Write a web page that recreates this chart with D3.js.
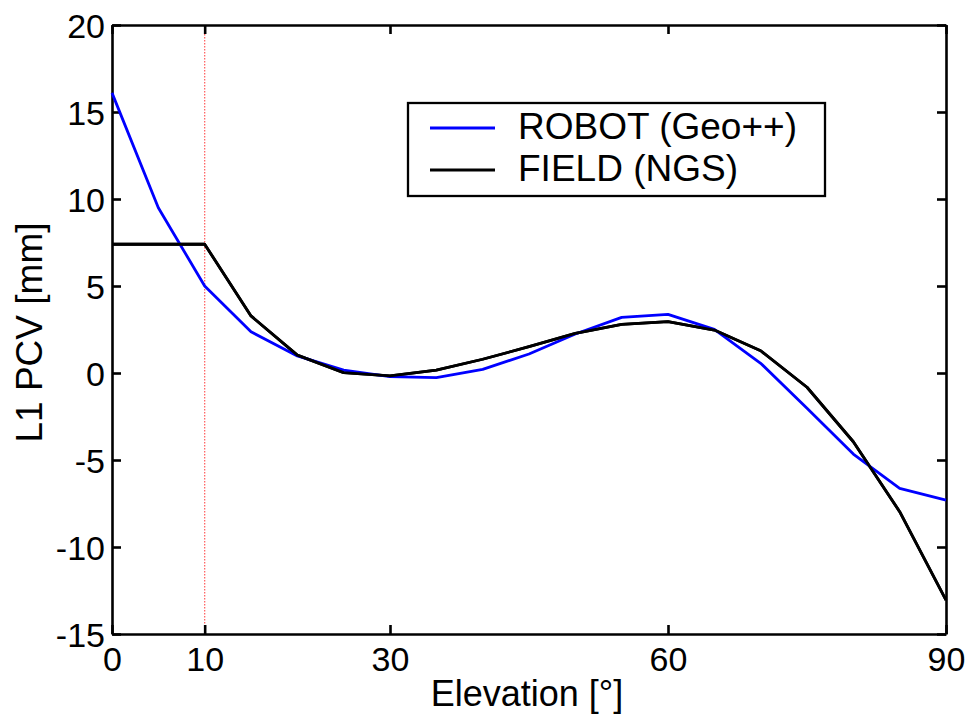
<!DOCTYPE html>
<html>
<head>
<meta charset="utf-8">
<script src="https://cdn.jsdelivr.net/npm/d3@7"></script>
<style>
  body { margin: 0; background: #fff; }
  svg text { font-family: "Liberation Sans", Arial, Helvetica, sans-serif; fill: #000; }
</style>
</head>
<body>
<svg id="chart" width="969" height="716"></svg>
<script>
const elevation = [0, 5, 10, 15, 20, 25, 30, 35, 40, 45, 50, 55, 60, 65, 70, 75, 80, 85, 90];
const robotValues = [16.1, 9.5, 5.0, 2.37, 0.98, 0.17, -0.21, -0.27, 0.21, 1.09, 2.24, 3.2, 3.37, 2.51, 0.56, -2.03, -4.66, -6.63, -7.3];
const fieldElevation = [0, 10, 15, 20, 25, 30, 35, 40, 45, 50, 55, 60, 65, 70, 75, 80, 85, 90];
const fieldValues = [7.4, 7.4, 3.28, 1.03, 0.02, -0.17, 0.17, 0.79, 1.51, 2.28, 2.8, 2.95, 2.47, 1.28, -0.82, -3.95, -7.97, -13.05];
const xTicks = [0, 10, 30, 60, 90];
const yTicks = [-15, -10, -5, 0, 5, 10, 15, 20];
const seriesNames = ["ROBOT (Geo++)", "FIELD (NGS)"];
const seriesColors = ["#0000ff", "#000000"];
const cutoffElevation = 10;

(function () {
const svg = d3.select("#chart");
const mL = 112, mR = 946, mT = 25, mB = 634;
const x = d3.scaleLinear().domain([0, 90]).range([mL, mR]);
const y = d3.scaleLinear().domain([-15, 20]).range([mB, mT]);

// cutoff dotted line
svg.append("line")
  .attr("x1", x(cutoffElevation)).attr("x2", x(cutoffElevation))
  .attr("y1", y(20)).attr("y2", y(-15))
  .attr("stroke", "#ff6666").attr("stroke-width", 1.3)
  .attr("stroke-dasharray", "1.5,1.5");

// axes (ticks inward)
const tickLen = 9;
const axB = svg.append("g").attr("transform", `translate(0,${mB})`)
  .call(d3.axisBottom(x).tickValues(xTicks).tickSizeInner(-tickLen).tickSizeOuter(0).tickPadding(13));
const axT = svg.append("g").attr("transform", `translate(0,${mT})`)
  .call(d3.axisTop(x).tickValues(xTicks).tickSizeInner(-tickLen).tickSizeOuter(0).tickFormat(""));
const axL = svg.append("g").attr("transform", `translate(${mL},0)`)
  .call(d3.axisLeft(y).tickValues(yTicks).tickSizeInner(-tickLen).tickSizeOuter(0).tickPadding(7)
    .tickFormat(d => d < 0 ? "-" + Math.abs(d) : String(d)));
const axR = svg.append("g").attr("transform", `translate(${mR},0)`)
  .call(d3.axisRight(y).tickValues(yTicks).tickSizeInner(-tickLen).tickSizeOuter(0).tickFormat(""));

[axB, axT, axL, axR].forEach(g => {
  g.select(".domain").attr("stroke", "#000").attr("stroke-width", 2.6);
  g.selectAll(".tick line").attr("stroke", "#000").attr("stroke-width", 2.6);
  g.selectAll(".tick text").attr("font-size", 34).attr("font-family", "Liberation Sans, Arial, sans-serif");
});
axL.selectAll(".tick text").attr("dy", "0.36em");
axB.selectAll(".tick text").attr("dy", "0.71em");

// lines
const line = d3.line().x(d => x(d[0])).y(d => y(d[1]));
const fieldData = fieldElevation.map((e, i) => [e, fieldValues[i]]);
const robotData = elevation.map((e, i) => [e, robotValues[i]]);
svg.append("path").datum(fieldData)
  .attr("d", line).attr("fill", "none")
  .attr("stroke", seriesColors[1]).attr("stroke-width", 2.8).attr("stroke-linejoin", "round");
svg.append("path").datum(robotData)
  .attr("d", line).attr("fill", "none")
  .attr("stroke", seriesColors[0]).attr("stroke-width", 2.8).attr("stroke-linejoin", "round");
svg.append("path").datum(fieldData)
  .attr("d", line).attr("fill", "none")
  .attr("stroke", seriesColors[1]).attr("stroke-width", 2.8).attr("stroke-linejoin", "round");

// axis labels
svg.append("text").attr("x", (mL + mR) / 2 - 2).attr("y", 706)
  .attr("text-anchor", "middle").attr("font-size", 36).text("Elevation [°]");
svg.append("text").attr("transform", `translate(42,${(mT + mB) / 2 + 3}) rotate(-90)`)
  .attr("text-anchor", "middle").attr("font-size", 37).text("L1 PCV [mm]");

// legend
const lg = svg.append("g");
lg.append("rect").attr("x", 408).attr("y", 103).attr("width", 417).attr("height", 93)
  .attr("fill", "#fff").attr("stroke", "#000").attr("stroke-width", 2.3);
seriesNames.forEach((name, i) => {
  const ly = [128, 170][i];
  lg.append("line").attr("x1", 430).attr("x2", 495).attr("y1", ly).attr("y2", ly)
    .attr("stroke", seriesColors[i]).attr("stroke-width", 2.8);
  lg.append("text").attr("x", 518).attr("y", ly + 11).attr("font-size", 37).text(name);
});
})();
</script>
</body>
</html>
